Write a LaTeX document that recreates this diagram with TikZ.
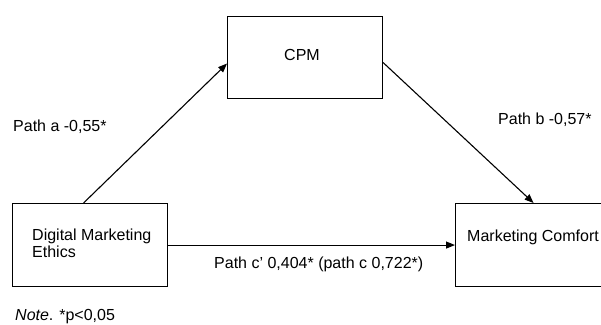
\documentclass[tikz,border=0pt]{standalone}
\usepackage{fontspec}
\setmainfont{Liberation Sans}
\usetikzlibrary{arrows.meta}

\tikzset{
  box/.style={draw, line width=1.1pt, minimum width=155pt, minimum height=83pt,
    anchor=north west, inner sep=0pt},
  lbl/.style={anchor=base west, inner sep=0pt, font=\fontsize{16}{16.3}\selectfont},
  link/.style={line width=1.1pt, -{Triangle[length=9pt,width=7pt]}}
}

\begin{document}
\begin{tikzpicture}[x=1pt, y=-1pt]
  \useasboundingbox (0,0) rectangle (601,324);
  \clip (0,0) rectangle (601,324);

  % Variable boxes
  \node[box] (ethics) at (12,203) {};
  \node[box, minimum height=82pt] (cpm) at (227,16) {};
  \node[box, minimum width=160pt] (comfort) at (455,203) {};

  % Box texts
  \node[lbl, align=left] (ethicstext) at (32,257) {Digital Marketing\\Ethics};
  \node[lbl, anchor=base] (cpmtext) at (302,60) {CPM};
  \node[lbl] (comforttext) at (467,241) {Marketing Comfort};

  % Paths
  \draw[link] ([xshift=-6.5pt]ethics.north) -- ([yshift=-6pt]cpm.west);
  \draw[link] ([yshift=-5pt]cpm.east) -- ([xshift=-2pt]comfort.north);
  \draw[link] (ethics.east) -- (comfort.west);

  % Path coefficients
  \node[lbl] (patha) at (13,131.5) {Path a -0,55*};
  \node[lbl] (pathb) at (498,124) {Path b -0,57*};
  \node[lbl] (pathc) at (214,268) {Path c' 0,404* (path c 0,722*)};

  % Note
  \node[lbl] (note) at (15,320.5) {\textit{Note}. *p<0,05};
\end{tikzpicture}
\end{document}
